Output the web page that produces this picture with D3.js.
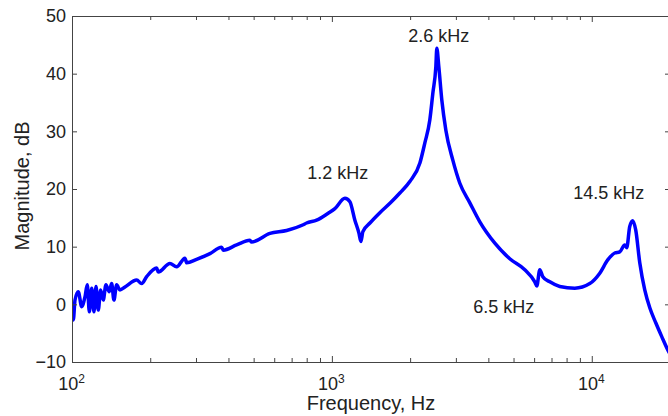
<!DOCTYPE html>
<html>
<head>
<meta charset="utf-8">
<script src="https://cdn.jsdelivr.net/npm/d3@7"></script>
<style>
  body { margin: 0; background: #fff; }
  text { font-family: Arial, "Liberation Sans", sans-serif; fill: #222; }
</style>
</head>
<body>
<svg width="668" height="416"></svg>
<script>
const FREQ = [
  100, 101.2, 102.7, 105.7, 109.0, 112.2, 114.5, 116.6, 119.1, 121.5,
  123.7, 126.2, 128.9, 131.9, 135.1, 139.1, 142.1, 145.0, 148.5, 152.9,
  159.9, 177.4, 185.4, 193.8, 211.7, 214.7, 238.1, 252.7, 272.0, 276.2,
  301.6, 339.5, 376.5, 381.9, 430.0, 483.6, 491.0, 577.6, 669.7, 775.6,
  799.3, 873.4, 967.7, 1027, 1122, 1173, 1226, 1270, 1293, 1316,
  1401, 1530, 1680, 1826, 1995, 2181, 2279, 2382, 2446, 2512, 2534,
  2579, 2649, 2745, 2920, 3107, 3395, 3709, 4237, 4836, 5524,
  6037, 6145, 6310, 6480, 6896, 7532, 8603, 9824, 10735, 11520,
  12260, 12810, 13395, 13630, 14000, 14380, 14760, 15300, 15990, 16720,
  17630, 18590, 19610, 20000
];
const MAG = [
  0.2, -2.7, 0.75, 2.2, -0.4, 1.3, 3.4, -1.3, 2.8, -1.3,
  3.1, -1.0, 2.5, 0.75, 3.4, 2.2, 3.6, 0.75, 3.4, 2.5,
  3.0, 4.2, 3.6, 4.8, 6.3, 5.6, 7.1, 6.5, 8.0, 7.2,
  7.8, 8.8, 9.9, 9.4, 10.3, 11.1, 10.8, 12.3, 12.8, 13.8,
  14.1, 14.6, 15.8, 16.6, 18.4, 17.8, 14.6, 12.4, 10.9, 12.6,
  14.1, 15.9, 17.6, 19.3, 21.3, 24.5, 28, 32, 36.6, 41.2, 44.4,
  41.2, 35.4, 30.2, 25, 21, 17.6, 14.3, 10.6, 7.9, 6.0,
  3.9, 3.2, 6.0, 4.8, 3.9, 3.1, 2.8, 3.6, 5.4, 7.7,
  8.9, 9.1, 10.3, 9.8, 13.5, 14.5, 12.9, 7.2, 2.5, -0.6,
  -3.2, -5.6, -7.9, -8.6
];

const Y_TICKS = [-10, 0, 10, 20, 30, 40, 50];
const X_MAJOR = [100, 1000, 10000];
const X_EXP = ["2", "3", "4"];

const PEAKS = [
  {label: "1.2 kHz", f: 1054, v: 21.7},
  {label: "2.6 kHz", f: 2579, v: 45.5},
  {label: "6.5 kHz", f: 4586, v: -1.5},
  {label: "14.5 kHz", f: 11630, v: 18.3}
];

const data = FREQ.map((f, i) => ({f: f, v: MAG[i]}));

const x = d3.scaleLog().domain([100, 20000]).range([72, 670]);
const y = d3.scaleLinear().domain([-10, 50]).range([362, 16]);

const svg = d3.select("svg");

// minor ticks 200..900, 2000..9000, 20000
const minor = [];
[100, 1000, 10000].forEach(d => { for (let k = 2; k <= 9; k++) minor.push(d * k); });

svg.append("clipPath").attr("id", "plot")
  .append("rect").attr("x", 72).attr("y", 16).attr("width", 598).attr("height", 346);

const line = d3.line().x(d => x(d.f)).y(d => y(d.v)).curve(d3.curveMonotoneX);

svg.append("path")
  .datum(data)
  .attr("clip-path", "url(#plot)")
  .attr("fill", "none")
  .attr("stroke", "#0000ff")
  .attr("stroke-width", 3.5)
  .attr("stroke-linejoin", "round")
  .attr("d", line);

const axisColor = "#444";

// bottom axis
const bottom = svg.append("g").attr("transform", "translate(0,362)")
  .call(d3.axisBottom(x).tickValues(X_MAJOR).tickSize(-6).tickSizeOuter(0).tickPadding(15).tickFormat(""));
bottom.selectAll(".tick text").each(function(d, i) {
  const t = d3.select(this).attr("font-size", 18).attr("text-anchor", "middle").attr("dx", "-1");
  t.append("tspan").text("10");
  t.append("tspan").attr("dy", "-0.55em").attr("font-size", 12).text(X_EXP[i]);
});
svg.append("g").attr("transform", "translate(0,362)")
  .call(d3.axisBottom(x).tickValues(minor).tickSize(-4).tickSizeOuter(0).tickFormat(""));

// top axis
svg.append("g").attr("transform", "translate(0,16)")
  .call(d3.axisTop(x).tickValues(X_MAJOR).tickSize(-6).tickSizeOuter(0).tickFormat(""));
svg.append("g").attr("transform", "translate(0,16)")
  .call(d3.axisTop(x).tickValues(minor).tickSize(-4).tickSizeOuter(0).tickFormat(""));

// left axis
svg.append("g").attr("transform", "translate(72,0)")
  .call(d3.axisLeft(y).tickValues(Y_TICKS).tickSize(-5).tickSizeOuter(0).tickPadding(6))
  .selectAll("text").attr("font-size", 18);

// right axis
svg.append("g").attr("transform", "translate(670,0)")
  .call(d3.axisRight(y).tickValues(Y_TICKS).tickSize(-5).tickSizeOuter(0).tickFormat(""));

svg.selectAll(".domain, .tick line").attr("stroke", axisColor);
svg.selectAll(".tick text").attr("fill", "#222").attr("font-family", "Arial, 'Liberation Sans', sans-serif");

// annotations
svg.selectAll(".peak")
  .data(PEAKS)
  .enter()
  .append("text")
  .classed("peak", true)
  .attr("x", d => x(d.f))
  .attr("y", d => y(d.v))
  .attr("text-anchor", "middle")
  .attr("font-size", 18)
  .text(d => d.label);

// axis titles
svg.append("text")
  .attr("x", 371).attr("y", 410)
  .attr("text-anchor", "middle")
  .attr("font-size", 20)
  .text("Frequency, Hz");

svg.append("text")
  .attr("transform", "translate(29,186) rotate(-90)")
  .attr("text-anchor", "middle")
  .attr("font-size", 20)
  .text("Magnitude, dB");
</script>
</body>
</html>
